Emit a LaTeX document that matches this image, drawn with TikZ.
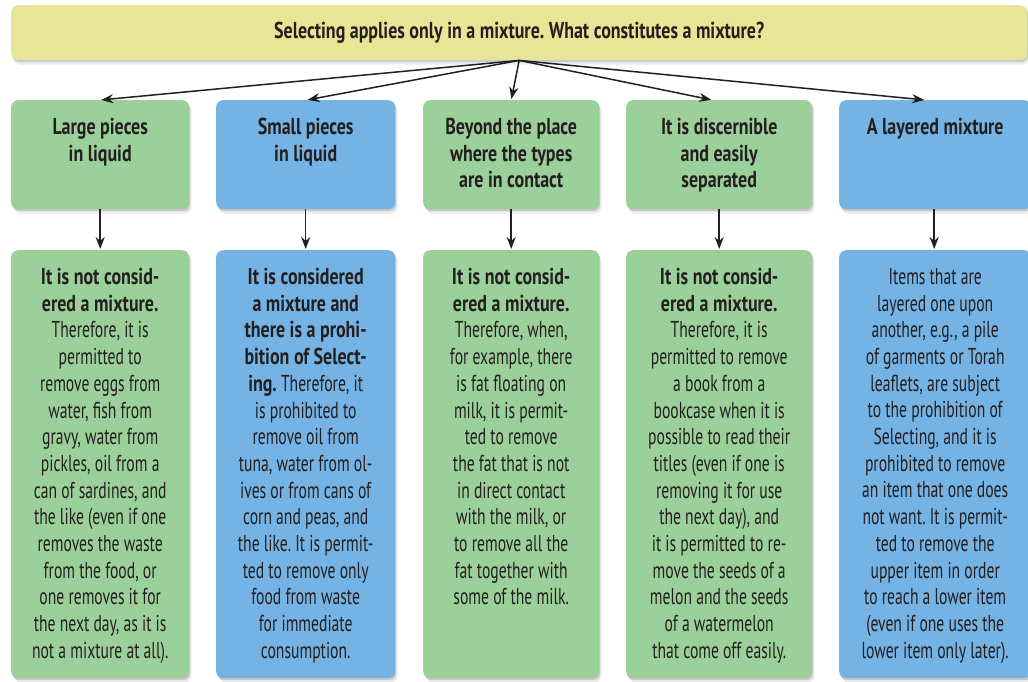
\documentclass[tikz,border=0pt]{standalone}
\usepackage{fontspec}
\setmainfont{PT Sans}[FakeStretch=0.68]
\newfontfamily\bfam{PT Sans}[FakeStretch=0.78]
\usetikzlibrary{arrows.meta,shadows}
\definecolor{yel}{HTML}{E8E597}
\definecolor{grn}{HTML}{9CD09A}
\definecolor{blu}{HTML}{74B3E4}
\definecolor{txt}{HTML}{231F20}
\definecolor{arrc}{HTML}{231F20}
\frenchspacing
\newcommand{\bb}[1]{{\bfam\bfseries #1}}
\newcommand{\bx}[3]{\parbox[c][#2][t]{#1}{\centering\vspace*{18pt}#3\par}}
\tikzset{
  softshadow/.style={general shadow={shadow xshift=1pt,shadow yshift=-2pt,opacity=0.15,fill=black},
                     general shadow={shadow xshift=2.5pt,shadow yshift=-4.5pt,opacity=0.08,fill=black}},
  box/.style={rounded corners=7pt, inner sep=0pt, anchor=north west, softshadow, text=txt,
              font=\fontsize{23}{26.7}\selectfont},
  greenbox/.style={box, fill=grn},
  bluebox/.style={box, fill=blu},
  arr/.style={-{Stealth[length=12pt,width=9pt]}, line width=1.5pt, draw=arrc, shorten >=1pt},
}
\begin{document}
\begin{tikzpicture}[x=1pt,y=-1pt]
\useasboundingbox (0,0) rectangle (1028,681);
% top
\node[box, fill=yel] (top) at (11,5)
  {\parbox[c][55pt][c]{1016pt}{\centering\bb{Selecting applies only in a mixture. What constitutes a mixture?}}};
% row 1
\node[greenbox] (b1) at (11,100)  {\bx{178pt}{109pt}{\bb{Large pieces\\in liquid}}};
\node[bluebox]  (b2) at (216,100) {\bx{179pt}{109pt}{\bb{Small pieces\\in liquid}}};
\node[greenbox] (b3) at (423,100) {\bx{176pt}{109pt}{\bb{Beyond the place\\where the types\\are in contact}}};
\node[greenbox] (b4) at (626,100) {\bx{186pt}{109pt}{\bb{It is discernible\\and easily\\separated}}};
\node[bluebox]  (b5) at (839,100) {\bx{192pt}{109pt}{\bb{A layered mixture}}};
% row 2
\node[greenbox] (c1) at (11,250) {\bx{178pt}{428pt}{\bb{It is not consid-\\ered a mixture.}\\Therefore, it is\\permitted to\\remove eggs from\\water, fish from\\gravy, water from\\pickles, oil from a\\can of sardines, and\\the like (even if one\\removes the waste\\from the food, or\\one removes it for\\the next day, as it is\\not a mixture at all).}};
\node[bluebox] (c2) at (216,250) {\bx{179pt}{428pt}{\bb{It is considered\\a mixture and\\there is a prohi-\\bition of Select-\\ing.} Therefore, it\\is prohibited to\\remove oil from\\tuna, water from ol-\\ives or from cans of\\corn and peas, and\\the like. It is permit-\\ted to remove only\\food from waste\\for immediate\\consumption.}};
\node[greenbox] (c3) at (423,250) {\bx{176pt}{428pt}{\bb{It is not consid-\\ered a mixture.}\\Therefore, when,\\for example, there\\is fat floating on\\milk, it is permit-\\ted to remove\\the fat that is not\\in direct contact\\with the milk, or\\to remove all the\\fat together with\\some of the milk.}};
\node[greenbox] (c4) at (626,250) {\bx{186pt}{428pt}{\bb{It is not consid-\\ered a mixture.}\\Therefore, it is\\permitted to remove\\a book from a\\bookcase when it is\\possible to read their\\titles (even if one is\\removing it for use\\the next day), and\\it is permitted to re-\\move the seeds of a\\melon and the seeds\\of a watermelon\\that come off easily.}};
\node[bluebox] (c5) at (839,250) {\bx{192pt}{428pt}{Items that are\\layered one upon\\another, e.g., a pile\\of garments or Torah\\leaflets, are subject\\to the prohibition of\\Selecting, and it is\\prohibited to remove\\an item that one does\\not want. It is permit-\\ted to remove the\\upper item in order\\to reach a lower item\\(even if one uses the\\lower item only later).}};
% arrows from top
\draw[arr] (top.south) -- (b1.north);
\draw[arr] (top.south) -- ([xshift=1pt]b2.north);
\draw[arr] (top.south) -- (b3.north);
\draw[arr] (top.south) -- ([xshift=-7pt]b4.north);
\draw[arr] (top.south) -- ([xshift=-10pt]b5.north);
% vertical arrows
\draw[arr] (b1.south) -- (c1.north);
\draw[arr] (b2.south) -- (c2.north);
\draw[arr] (b3.south) -- (c3.north);
\draw[arr] (b4.south) -- (c4.north);
\draw[arr] ([xshift=-1pt]b5.south) -- ([xshift=-1pt]c5.north);
\end{tikzpicture}
\end{document}
